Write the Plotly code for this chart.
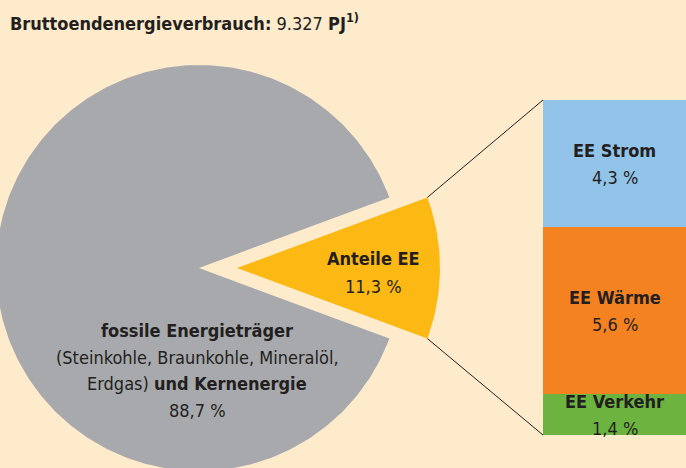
import math
import plotly.graph_objects as go

# ---- data ----
pie_labels = ["Anteile EE", "fossile Energieträger"]
pie_values = [11.3, 88.7]
bar_labels = ["EE Verkehr", "EE Wärme", "EE Strom"]
bar_values = [1.4, 5.6, 4.3]
title_total = "9.327"

# ---- style / layout constants ----
W, H = 686, 468
BG = "#FEEBCC"
TXT = "#231F20"
FONT = "DejaVu Sans Condensed"
FS = 18
pie_colors = ["#FDB913", "#A7A9AC"]
bar_colors = ["#6DB33F", "#F58220", "#92C3E8"]
CX, CY, R = 199, 268, 203
EXPLODE = 38
BAR_X, BAR_W = 614.5, 143
BAR_TOP_PX, BAR_BOT_PX = 100, 435

fig = go.Figure()

total = sum(pie_values)
half = pie_values[0] / total * 360 / 2
start = -half
corners = None
for i, v in enumerate(pie_values):
    span = v / total * 360
    a0, a1 = start, start + span
    off = EXPLODE if i == 0 else 0
    cx = CX + off
    n = max(8, int(span))
    xs, ys = [cx], [CY]
    for k in range(n + 1):
        a = math.radians(a0 + (a1 - a0) * k / n)
        xs.append(cx + R * math.cos(a))
        ys.append(CY - R * math.sin(a))
    xs.append(cx); ys.append(CY)
    if i == 0:
        corners = [(xs[1], ys[1]), (xs[-2], ys[-2])]
    fig.add_trace(go.Scatter(x=xs, y=ys, fill="toself", mode="lines",
                             line=dict(width=0, color=pie_colors[i]),
                             fillcolor=pie_colors[i], hoverinfo="skip",
                             showlegend=False, xaxis="x", yaxis="y"))
    start = a1

bsum = sum(bar_values)
scale = (BAR_BOT_PX - BAR_TOP_PX) / bsum
y2_lo = -(H - BAR_BOT_PX) / scale
y2_hi = y2_lo + H / scale
for lab, v, c in zip(bar_labels, bar_values, bar_colors):
    fig.add_trace(go.Bar(x=[BAR_X], y=[v], width=[BAR_W], marker=dict(color=c, line=dict(width=0)),
                         name=lab, showlegend=False, xaxis="x", yaxis="y2", hoverinfo="skip"))

def y2px(v):
    return H * (y2_hi - v) / (y2_hi - y2_lo)

bar_left = BAR_X - BAR_W / 2
(cx1, cy1), (cx2, cy2) = corners
fig.add_trace(go.Scatter(x=[cx2, bar_left], y=[cy2, y2px(bsum)], mode="lines",
                         line=dict(color=TXT, width=1), showlegend=False, hoverinfo="skip"))
fig.add_trace(go.Scatter(x=[cx1, bar_left], y=[cy1, y2px(0)], mode="lines",
                         line=dict(color=TXT, width=1), showlegend=False, hoverinfo="skip"))

def fmt(v):
    return f"{v:.1f}".replace(".", ",") + " %"

ann = []
def label(x, y, text, yref="y", yshift=0, xanchor="center"):
    ann.append(dict(x=x, y=y, xref="x", yref=yref, text=text, showarrow=False,
                    xanchor=xanchor, yshift=yshift,
                    font=dict(family=FONT, size=FS, color=TXT)))

cum = 0
for lab, v in zip(bar_labels, bar_values):
    label(BAR_X, cum + v / 2, f"<b>{lab}</b>", yref="y2", yshift=13)
    label(BAR_X, cum + v / 2, fmt(v), yref="y2", yshift=-14)
    cum += v

label(373, 258, f"<b>{pie_labels[0]}</b>")
label(373, 286, fmt(pie_values[0]))

gray_lines = [f"<b>{pie_labels[1]}</b>",
              "(Steinkohle, Braunkohle, Mineralöl,",
              "Erdgas) <b>und Kernenergie</b>",
              fmt(pie_values[1])]
for yy, t in zip([330, 357, 383, 410], gray_lines):
    label(197, yy, t)

label(8, 22, f"<b>Bruttoendenergieverbrauch:</b> {title_total} <b>PJ<sup>1)</sup></b>", xanchor="left")

fig.update_layout(
    width=W, height=H, margin=dict(l=0, r=0, t=0, b=0),
    paper_bgcolor=BG, plot_bgcolor=BG, barmode="stack", bargap=0,
    xaxis=dict(range=[0, W], visible=False, fixedrange=True),
    yaxis=dict(range=[H, 0], visible=False, fixedrange=True),
    yaxis2=dict(range=[y2_lo, y2_hi], visible=False, overlaying="y", fixedrange=True),
    annotations=ann,
)
fig.write_html("out.html", config={"displayModeBar": False},
               post_script="document.body.style.margin='0';")
